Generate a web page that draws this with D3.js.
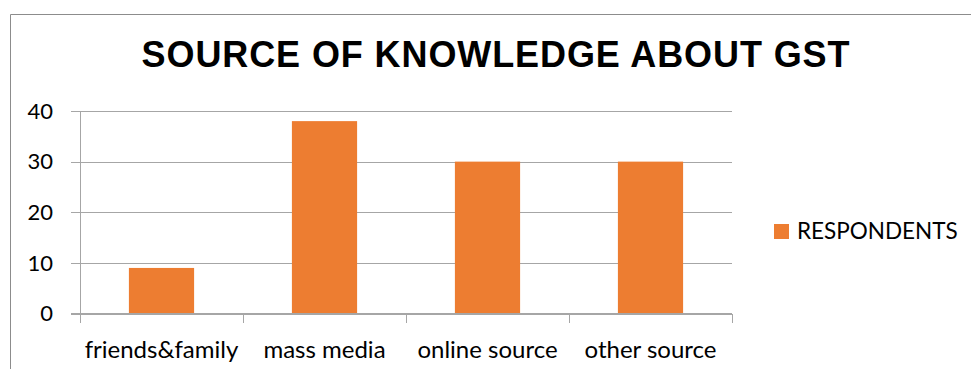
<!DOCTYPE html>
<html>
<head>
<meta charset="utf-8">
<script src="https://cdn.jsdelivr.net/npm/d3@7"></script>
<style>
  html, body { margin: 0; padding: 0; background: #fff; }
  svg { display: block; }
</style>
</head>
<body>
<svg id="chart" width="971" height="369"></svg>
<script>
// Survey results: where respondents first learned about GST
const categories = ["friends&family", "mass media", "online source", "other source"];
const respondents = [9, 38, 30, 30];
const yTicks = [0, 10, 20, 30, 40];
const seriesName = "RESPONDENTS";
const chartTitle = "SOURCE OF KNOWLEDGE ABOUT GST";

const svg = d3.select("#chart");
const labelFont = "Lato, 'Open Sans', sans-serif";
const orange = "#ED7D31";
const gridColor = "#A6A6A6";

// outer chart frame
svg.append("path")
  .attr("d", "M10.5,369 V14.5 H971")
  .attr("fill", "none")
  .attr("stroke", "#8C8C8C")
  .attr("stroke-width", 1);

// title
svg.append("text")
  .attr("x", 496)
  .attr("y", 67)
  .attr("text-anchor", "middle")
  .attr("font-family", "'Liberation Sans', Arial, sans-serif")
  .attr("font-weight", "bold")
  .attr("font-size", 36)
  .attr("letter-spacing", 0.9)
  .attr("fill", "#000")
  .text(chartTitle);

const plot = { left: 80, right: 732, top: 111, bottom: 313.5 };

const x = d3.scaleBand()
  .domain(categories)
  .range([plot.left, plot.right])
  .paddingInner(0.6)
  .paddingOuter(0.3);

const y = d3.scaleLinear()
  .domain([0, 40])
  .range([plot.bottom, plot.top]);

// horizontal gridlines with left tick stubs
const yAxis = d3.axisLeft(y)
  .tickValues(yTicks)
  .tickSize(-(plot.right - plot.left))
  .tickPadding(0)
  .tickFormat("");
const yg = svg.append("g")
  .attr("transform", `translate(${plot.left},0)`)
  .call(yAxis);
yg.select(".domain").remove();
yg.selectAll(".tick line")
  .attr("x1", -9)
  .attr("stroke", gridColor)
  .attr("shape-rendering", "crispEdges");

// y tick labels
svg.append("g").selectAll("text")
  .data(yTicks)
  .join("text")
  .attr("x", 53)
  .attr("y", d => y(d) + 7.8)
  .attr("text-anchor", "end")
  .attr("font-family", labelFont)
  .attr("font-size", 22)
  .attr("fill", "#000")
  .text(d => d);

// vertical axis line
svg.append("line")
  .attr("x1", plot.left).attr("x2", plot.left)
  .attr("y1", plot.top).attr("y2", plot.bottom + 9)
  .attr("stroke", gridColor)
  .attr("shape-rendering", "crispEdges");

// category boundary ticks on the baseline
const boundaries = d3.range(categories.length + 1).map(i => plot.left + i * (plot.right - plot.left) / categories.length);
svg.append("g").selectAll("line")
  .data(boundaries)
  .join("line")
  .attr("x1", d => d).attr("x2", d => d)
  .attr("y1", plot.bottom).attr("y2", plot.bottom + 9)
  .attr("stroke", gridColor)
  .attr("shape-rendering", "crispEdges");

// bars
svg.append("g").selectAll("rect")
  .data(respondents)
  .join("rect")
  .attr("x", (d, i) => x(categories[i]))
  .attr("width", x.bandwidth())
  .attr("y", d => y(d))
  .attr("height", d => y(0) - y(d))
  .attr("fill", orange);

// baseline drawn over bars
svg.append("line")
  .attr("x1", plot.left - 9).attr("x2", plot.right)
  .attr("y1", plot.bottom).attr("y2", plot.bottom)
  .attr("stroke", gridColor)
  .attr("shape-rendering", "crispEdges");

// category labels
svg.append("g").selectAll("text")
  .data(categories)
  .join("text")
  .attr("x", d => x(d) + x.bandwidth() / 2)
  .attr("y", 357.5)
  .attr("text-anchor", "middle")
  .attr("font-family", labelFont)
  .attr("font-size", 24)
  .attr("fill", "#000")
  .text(d => d);

// legend
const legend = svg.append("g").attr("transform", "translate(774,224)");
legend.append("rect")
  .attr("width", 15).attr("height", 15)
  .attr("fill", orange);
legend.append("text")
  .attr("x", 23)
  .attr("y", 15.3)
  .attr("font-family", labelFont)
  .attr("font-size", 22.5)
  .attr("fill", "#000")
  .text(seriesName);
</script>
</body>
</html>
